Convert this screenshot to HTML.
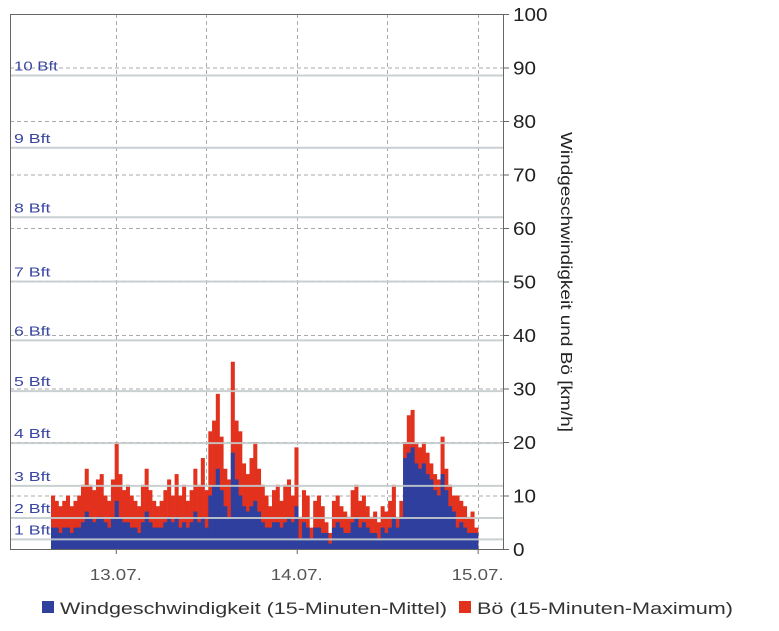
<!DOCTYPE html>
<html><head><meta charset="utf-8"><style>
body{margin:0;background:#fff;width:779px;height:626px;overflow:hidden;font-family:"Liberation Sans",sans-serif}
</style></head><body>
<svg id="chart" width="779" height="626" xmlns="http://www.w3.org/2000/svg" font-family="Liberation Sans, sans-serif">
<g id="grid"></g>
<g id="bars"></g>
<g id="bftlines2"></g>
<rect x="10.5" y="14.5" width="493" height="535" fill="none" stroke="#666" stroke-width="1"/>
<g id="yaxis"></g>
<g id="xaxis"></g>
<text transform="translate(561,282) rotate(90)" text-anchor="middle" font-size="16" textLength="300" lengthAdjust="spacingAndGlyphs" fill="#222">Windgeschwindigkeit und Bö [km/h]</text>
<g>
<rect x="42" y="601" width="12" height="12" fill="#2e3f9e"/>
<text x="60" y="614" font-size="17" textLength="387" lengthAdjust="spacingAndGlyphs" fill="#333">Windgeschwindigkeit (15-Minuten-Mittel)</text>
<rect x="459" y="601" width="12" height="12" fill="#e2321e"/>
<text x="477" y="614" font-size="17" textLength="256" lengthAdjust="spacingAndGlyphs" fill="#333">Bö (15-Minuten-Maximum)</text>
</g>
</svg>
<script>
const gust=[10,9,8,9,10,8,9,10,12,15,12,11,13,14,10,9,13,20,14,11,12,10,9,8,12,15,11,9,8,
9,11,13,10,14,10,12,9,11,15,12,17,11,22,24,29,21,15,13,35,24,22,16,14,17,20,15,12,
10,8,11,12,9,12,13,10,19,6,11,10,4,9,10,8,5,3,9,10,8,7,6,11,12,9,10,8,
6,7,5,8,7,9,12,6,9,20,25,26,20,19,20,18,16,14,13,21,15,12,10,10,9,8,6,7,4];
const mean=[4,4,3,4,4,3,4,4,5,7,6,5,6,6,5,4,6,9,6,5,5,4,4,3,5,7,5,4,4,
4,5,6,5,6,4,5,4,5,7,5,6,4,10,12,15,11,8,6,18,13,10,8,7,8,9,7,5,
4,4,5,5,4,5,6,5,8,2,5,4,2,4,4,3,3,1,4,5,4,3,3,5,6,4,5,4,
3,3,2,4,3,4,6,4,6,17,18,19,16,15,16,14,13,11,10,14,11,8,7,4,5,4,3,3,3];
const yTicks=[0,10,20,30,40,50,60,70,80,90,100];
const bftLabels=["1 Bft","2 Bft","3 Bft","4 Bft","5 Bft","6 Bft","7 Bft","8 Bft","9 Bft","10 Bft"];
const bftValues=[1.8,5.8,11.8,19.8,29.5,39,50,62,75,88.5];
const dayLabels=["13.07.","14.07.","15.07."];
const dayIndex=[17.3,65.6,113.9];
const NS="http://www.w3.org/2000/svg";
const y=v=>549-v*5.35;
const x0=51,bw=(478-51)/114;
const x=i=>x0+i*bw;
function mk(tag,attrs,parent,txt){const e=document.createElementNS(NS,tag);for(const k in attrs)e.setAttribute(k,attrs[k]);if(txt!==undefined)e.textContent=txt;parent.appendChild(e);return e;}
const grid=document.getElementById('grid');
yTicks.forEach(v=>{if(v===0||v===100)return;
 const l=mk('line',{x1:10,x2:503,y1:y(v)+.5,y2:y(v)+.5,stroke:'#aaa','stroke-dasharray':'4,3'},grid);
 
 });
const gx=[116,206,297,387,478];
gx.forEach(px=>{const l=mk('line',{x1:px+.5,x2:px+.5,y1:14,y2:549,stroke:'#aaa','stroke-dasharray':'4,3'},grid);
 
 });
const bars=document.getElementById('bars');
gust.forEach((g,i)=>{const r=mk('rect',{x:x(i),y:y(g),width:bw+.3,height:549-y(g),fill:'#e2321e'},bars);
 
 });
mean.forEach((m,i)=>{const r=mk('rect',{x:x(i),y:y(m),width:bw+.3,height:549-y(m),fill:'#2e3f9e'},bars);
 
 });
const bo=document.getElementById('bftlines2');
bftValues.forEach((v,i)=>{const l=mk('line',{x1:10,x2:503,y1:y(v),y2:y(v),stroke:'#c4cccd','stroke-width':2,opacity:.9},bo);
 
 
 const t=mk('text',{x:14,y:y(v)-5,'font-size':13,fill:'#3a47a0',textLength:bftLabels[i].length*7.3,lengthAdjust:'spacingAndGlyphs'},bo,bftLabels[i]);
 
 });
const ya=document.getElementById('yaxis');
yTicks.forEach(v=>{const l=mk('line',{x1:503,x2:509,y1:y(v)+.5,y2:y(v)+.5,stroke:'#666'},ya);
 
 
 const s=String(v);
 const t=mk('text',{x:513,y:y(v)+7,'font-size':18,fill:'#222',textLength:s.length*11.5,lengthAdjust:'spacingAndGlyphs'},ya,s);
 
 });
const xa=document.getElementById('xaxis');
dayLabels.forEach((d,i)=>{const px=x(dayIndex[i]);
 const l=mk('line',{x1:px+.5,x2:px+.5,y1:549,y2:554,stroke:'#666'},xa);
 
 
 const t=mk('text',{x:px-26,y:580,'font-size':16,fill:'#555',textLength:52,lengthAdjust:'spacingAndGlyphs'},xa,d);
 
 });
</script>
</body></html>
